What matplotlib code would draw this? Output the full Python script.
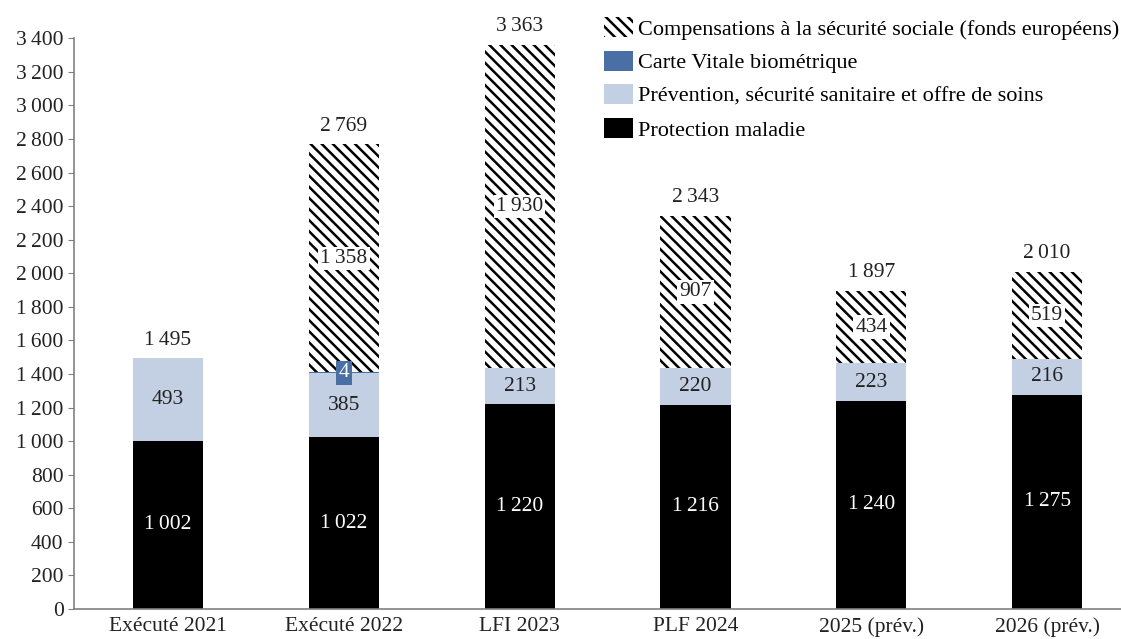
import numpy as np
import matplotlib.pyplot as plt
from matplotlib.patches import Patch

plt.rcParams['font.family'] = ['Liberation Serif', 'DejaVu Serif']
plt.rcParams['hatch.linewidth'] = 1.8

categories = ['Exécuté 2021', 'Exécuté 2022', 'LFI 2023', 'PLF 2024', '2025 (prév.)', '2026 (prév.)']
protection = [1002, 1022, 1220, 1216, 1240, 1275]
prevention = [493, 385, 213, 220, 223, 216]
carte_vitale = [0, 4, 0, 0, 0, 0]
compensations = [0, 1358, 1930, 907, 434, 519]
totals = [1495, 2769, 3363, 2343, 1897, 2010]

c_prev = '#c3cfe2'
c_carte = '#4a6fa5'
hatch = '\\\\\\'


def fmt(v):
    return f'{v:,}'.replace(',', '\u202f')


fig = plt.figure(figsize=(11.21, 6.39), dpi=100)
ax = fig.add_axes([0.066, 0.047, 0.934, 0.893])

x = np.arange(len(categories))
w = 0.4
b1 = np.array(protection)
b2 = b1 + np.array(prevention)
b3 = b2 + np.array(carte_vitale)

ax.bar(x, protection, w, color='black')
ax.bar(x, prevention, w, bottom=b1, color=c_prev)
ax.bar(x, carte_vitale, w, bottom=b2, color=c_carte)
ax.bar(x, compensations, w, bottom=b3, color='white', edgecolor='black',
       hatch=hatch, linewidth=0)

fs = 15.5
for i in range(len(x)):
    ax.text(x[i], protection[i] / 2, fmt(protection[i]), ha='center', va='center',
            color='white', fontsize=fs)
    ax.text(x[i], b1[i] + prevention[i] / 2, fmt(prevention[i]), ha='center', va='center',
            color='#222222', fontsize=fs)
    if carte_vitale[i]:
        ax.text(x[i], b2[i], fmt(carte_vitale[i]), ha='center', va='center',
                color='white', fontsize=fs,
                bbox=dict(facecolor=c_carte, edgecolor='none', pad=2))
    if compensations[i]:
        ax.text(x[i], b3[i] + compensations[i] / 2, fmt(compensations[i]), ha='center',
                va='center', color='#222222', fontsize=fs,
                bbox=dict(facecolor='white', edgecolor='none', pad=1.5))
    ax.text(x[i], totals[i] + 50, fmt(totals[i]), ha='center', va='bottom',
            color='#222222', fontsize=fs)

ax.set_xlim(-0.535, 5.42)
ax.set_ylim(0, 3400)
ax.set_yticks(np.arange(0, 3401, 200))
ax.set_yticklabels([fmt(v) for v in range(0, 3401, 200)])
ax.set_xticks(x)
ax.set_xticklabels(categories)
ax.tick_params(axis='x', length=0, labelsize=fs, pad=6, colors='#222222')
ax.tick_params(axis='y', length=4, labelsize=fs, colors='#222222', color='#808080')
for s in ['top', 'right']:
    ax.spines[s].set_visible(False)
for s in ['left', 'bottom']:
    ax.spines[s].set_color('#808080')
    ax.spines[s].set_linewidth(1.2)

handles = [
    Patch(facecolor='white', edgecolor='black', hatch=hatch, linewidth=0,
          label='Compensations à la sécurité sociale (fonds européens)'),
    Patch(facecolor=c_carte, label='Carte Vitale biométrique'),
    Patch(facecolor=c_prev, label='Prévention, sécurité sanitaire et offre de soins'),
    Patch(facecolor='black', label='Protection maladie'),
]
fig.legend(handles=handles, loc='upper left', bbox_to_anchor=(604 / 1121, 1 - 17 / 639),
           frameon=False, fontsize=16, handlelength=1.3, handleheight=1.0,
           handletextpad=0.25, labelspacing=0.5, borderaxespad=0, borderpad=0)

fig.savefig('out.png', dpi=100)
